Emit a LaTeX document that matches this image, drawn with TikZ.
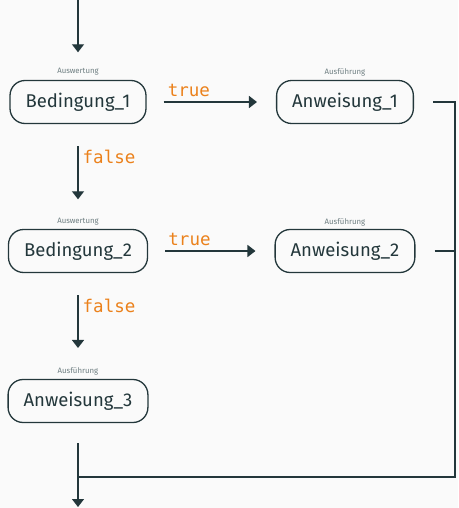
\documentclass[tikz,border=0pt]{standalone}
\usepackage{fontspec}
\setmainfont{Fira Sans}
\newfontfamily\codefont{DejaVu Sans Mono}
\usetikzlibrary{arrows.meta}
\definecolor{dk}{HTML}{23373B}
\definecolor{org}{HTML}{EB811B}
\definecolor{lbl}{HTML}{6F7F82}
\definecolor{bg}{HTML}{FAFAFA}
\tikzset{
  stmt/.style={draw=dk, line width=1.3pt, rounded corners=15pt, minimum height=43pt, inner xsep=15.5pt, text=dk, font=\fontsize{18.5}{22}\selectfont},
  tag/.style={text=lbl, font=\fontsize{7.8}{9}\selectfont, inner sep=0pt},
  edge/.style={draw=dk, line width=1.4pt},
  arr/.style={edge, -{Triangle[width=12pt,length=8pt]}},
  cond/.style={text=org, font=\codefont\fontsize{17.5}{20}\selectfont, inner sep=0pt}
}
\begin{document}
\begin{tikzpicture}[x=1pt,y=-1pt]
\fill[bg] (0,0) rectangle (458,508);
\useasboundingbox (0,0) rectangle (458,508);
\node[stmt] (b1) at (78,102) {Bedingung\_1};
\node[tag] (t1) at (78,72) {Auswertung};
\node[stmt] (a1) at (345,102) {Anweisung\_1};
\node[tag] (t2) at (345,72) {Ausführung};
\node[stmt] (b2) at (78,251) {Bedingung\_2};
\node[tag] (t3) at (78,222) {Auswertung};
\node[stmt] (a2) at (345,251) {Anweisung\_2};
\node[tag] (t4) at (345,222) {Ausführung};
\node[stmt] (a3) at (78,401) {Anweisung\_3};
\node[tag] (t5) at (78,371) {Ausführung};
\coordinate (top) at (78,0);
\coordinate (bot) at (78,507);
\coordinate (join) at (78,477);
\coordinate (r1) at (455,102);
\coordinate (r2) at (455,251);
\coordinate (r3) at (455,477);
% incoming
\draw[arr] (top) -- ([yshift=16pt]t1.north);
% true arrows
\draw[arr] ([xshift=17pt]b1.east) -- ([xshift=-19pt]a1.west) node[cond, pos=0.27, above=5pt] (tr1) {true};
\draw[arr] ([xshift=17pt]b2.east) -- ([xshift=-19pt]a2.west) node[cond, pos=0.27, above=5pt] (tr2) {true};
% false arrows
\draw[arr] ([yshift=-22pt]b1.south) -- ([yshift=19pt]t3.north) node[cond, pos=0.2, right=4pt] (f1) {false};
\draw[arr] ([yshift=-22pt]b2.south) -- ([yshift=19pt]t5.north) node[cond, pos=0.2, right=4pt] (f2) {false};
% exits
\draw[edge] ([xshift=19pt]a1.east) -- (r1) -- (r3) -- (join);
\draw[edge] ([xshift=19pt]a2.east) -- (r2);
\draw[arr] ([yshift=-20pt]a3.south) -- (bot);
\end{tikzpicture}
\end{document}
